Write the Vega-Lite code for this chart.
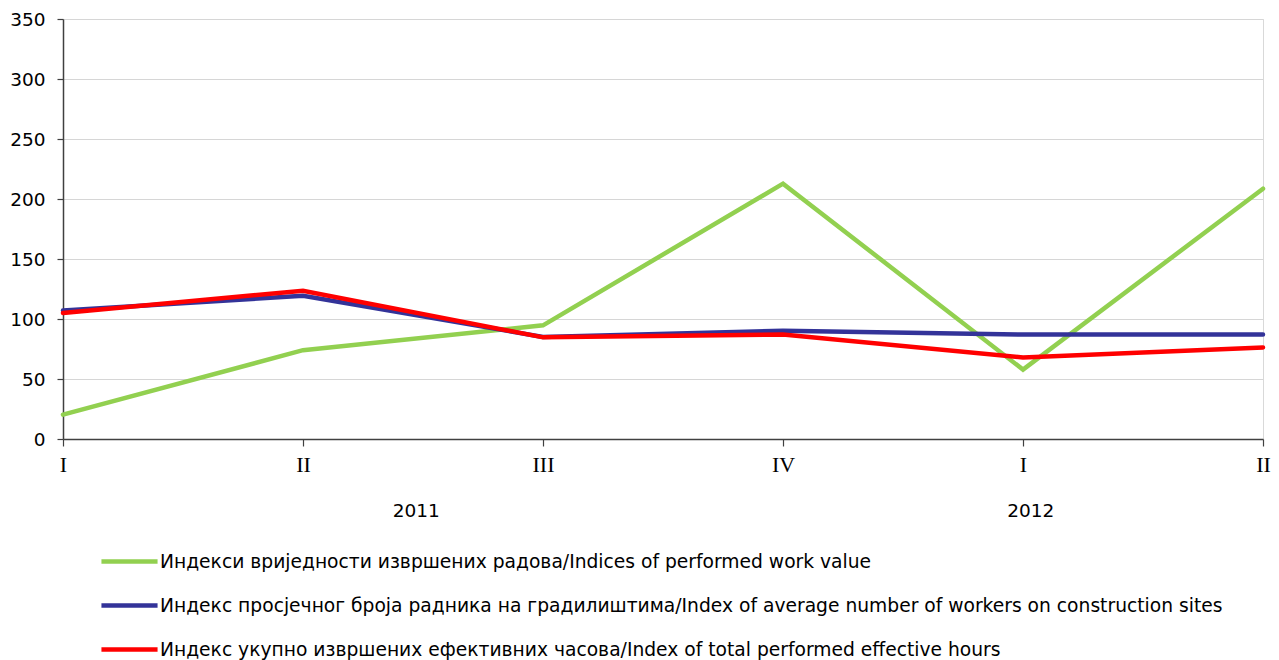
{
  "$schema": "https://vega.github.io/schema/vega-lite/v6.json",
  "width": 1200,
  "height": 420,
  "autosize": {"type": "none"},
  "padding": {"left": 63, "top": 19, "right": 16, "bottom": 221},
  "background": "white",
  "config": {
    "view": {"stroke": "#d9d9d9", "strokeWidth": 1},
    "font": "DejaVu Sans"
  },
  "datasets": {
    "series": [
      {"idx": 0, "series": "Индекси вриједности извршених радова/Indices of performed work value", "value": 20.3},
      {"idx": 1, "series": "Индекси вриједности извршених радова/Indices of performed work value", "value": 74},
      {"idx": 2, "series": "Индекси вриједности извршених радова/Indices of performed work value", "value": 94.7},
      {"idx": 3, "series": "Индекси вриједности извршених радова/Indices of performed work value", "value": 212.8},
      {"idx": 4, "series": "Индекси вриједности извршених радова/Indices of performed work value", "value": 57.8},
      {"idx": 5, "series": "Индекси вриједности извршених радова/Indices of performed work value", "value": 208.6},
      {"idx": 0, "series": "Индекс просјечног броја радника на градилиштима/Index of average number of workers on construction sites", "value": 107},
      {"idx": 1, "series": "Индекс просјечног броја радника на градилиштима/Index of average number of workers on construction sites", "value": 119.4},
      {"idx": 2, "series": "Индекс просјечног броја радника на градилиштима/Index of average number of workers on construction sites", "value": 85},
      {"idx": 3, "series": "Индекс просјечног броја радника на градилиштима/Index of average number of workers on construction sites", "value": 90.3},
      {"idx": 4, "series": "Индекс просјечног броја радника на градилиштима/Index of average number of workers on construction sites", "value": 87},
      {"idx": 5, "series": "Индекс просјечног броја радника на градилиштима/Index of average number of workers on construction sites", "value": 87},
      {"idx": 0, "series": "Индекс укупно извршених ефективних часова/Index of total performed effective hours", "value": 105},
      {"idx": 1, "series": "Индекс укупно извршених ефективних часова/Index of total performed effective hours", "value": 123.6},
      {"idx": 2, "series": "Индекс укупно извршених ефективних часова/Index of total performed effective hours", "value": 84.7},
      {"idx": 3, "series": "Индекс укупно извршених ефективних часова/Index of total performed effective hours", "value": 87},
      {"idx": 4, "series": "Индекс укупно извршених ефективних часова/Index of total performed effective hours", "value": 68},
      {"idx": 5, "series": "Индекс укупно извршених ефективних часова/Index of total performed effective hours", "value": 76.3}
    ],
    "years": [
      {"year": "2011", "pos": 1.47},
      {"year": "2012", "pos": 4.03}
    ]
  },
  "layer": [
    {
      "data": {"name": "series"},
      "mark": {"type": "line", "strokeWidth": 4.5, "strokeCap": "round", "strokeJoin": "miter"},
      "encoding": {
        "x": {
          "field": "idx", "type": "quantitative",
          "scale": {"domain": [0, 5], "nice": false, "zero": false},
          "axis": {
            "values": [0, 1, 2, 3, 4, 5],
            "labelExpr": "['I','II','III','IV','I','II'][datum.value]",
            "title": null, "grid": false,
            "domainColor": "#404040", "domainWidth": 1.5,
            "tickColor": "#404040", "tickSize": 7, "tickWidth": 1.2,
            "labelFont": "Liberation Serif", "labelFontSize": 22, "labelColor": "#000000",
            "labelPadding": 8, "labelFlush": false, "labelOverlap": false
          }
        },
        "y": {
          "field": "value", "type": "quantitative",
          "scale": {"domain": [0, 350], "nice": false},
          "axis": {
            "values": [0, 50, 100, 150, 200, 250, 300, 350],
            "title": null,
            "gridColor": "#d6d6d6", "gridWidth": 1,
            "domainColor": "#404040", "domainWidth": 1.5,
            "tickColor": "#404040", "tickSize": 6, "tickWidth": 1.2,
            "labelFont": "DejaVu Sans", "labelFontSize": 18.5, "labelColor": "#000000",
            "labelPadding": 12
          }
        },
        "color": {
          "field": "series", "type": "nominal",
          "scale": {
            "domain": [
              "Индекси вриједности извршених радова/Indices of performed work value",
              "Индекс просјечног броја радника на градилиштима/Index of average number of workers on construction sites",
              "Индекс укупно извршених ефективних часова/Index of total performed effective hours"
            ],
            "range": ["#92d050", "#333399", "#ff0000"]
          },
          "legend": {
            "orient": "none", "legendX": 36, "legendY": 512,
            "direction": "vertical", "title": null, "padding": 0,
            "symbolType": "stroke", "symbolSize": 3150, "symbolStrokeWidth": 4.5,
            "labelFont": "DejaVu Sans", "labelFontSize": 18.7, "labelColor": "#000000",
            "labelOffset": 0, "labelLimit": 1200, "rowPadding": 3
          }
        }
      }
    },
    {
      "data": {"name": "years"},
      "mark": {"type": "text", "opacity": 0},
      "encoding": {
        "x": {
          "field": "pos", "type": "quantitative",
          "scale": {"domain": [0, 5], "nice": false, "zero": false},
          "axis": {
            "orient": "bottom", "values": [1.47, 4.03],
            "labelExpr": "datum.value < 3 ? '2011' : '2012'",
            "title": null, "grid": false, "domain": false, "ticks": false,
            "labelFont": "DejaVu Sans", "labelFontSize": 18.5, "labelColor": "#000000",
            "labelPadding": 14, "offset": 48
          }
        },
        "text": {"field": "year"}
      }
    }
  ],
  "resolve": {"scale": {"x": "independent"}, "axis": {"x": "independent"}}
}
